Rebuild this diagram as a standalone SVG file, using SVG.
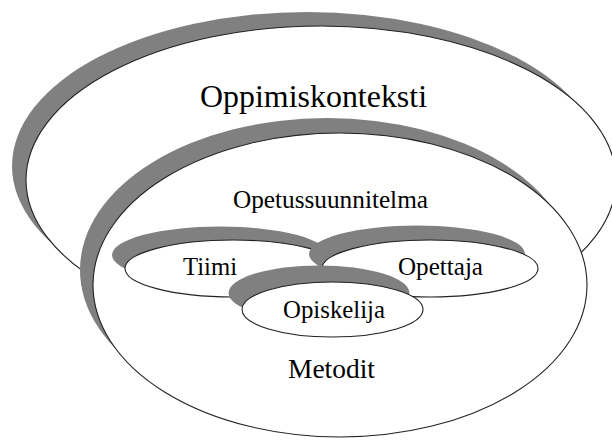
<svg xmlns="http://www.w3.org/2000/svg" width="612" height="443" viewBox="0 0 612 443">
<style>
.sh{fill:#808080;stroke:none}
.el{fill:#fff;stroke:#222;stroke-width:1.1}
.t{font-family:"Liberation Serif","Times New Roman",serif;fill:#000;text-anchor:middle}
</style>
<rect width="612" height="443" fill="#fff"/>
<g id="oppimiskonteksti">
<ellipse class="sh" cx="307" cy="166" rx="295" ry="154"/>
<ellipse class="el" cx="321" cy="180" rx="295" ry="154"/>
<text class="t" x="313.5" y="107" font-size="32" textLength="227" lengthAdjust="spacingAndGlyphs">Oppimiskonteksti</text>
</g>
<g id="opetussuunnitelma">
<ellipse class="sh" cx="327" cy="270" rx="247" ry="152"/>
<ellipse class="el" cx="340" cy="285" rx="247" ry="152"/>
<text class="t" x="330.5" y="208" font-size="26" textLength="195" lengthAdjust="spacingAndGlyphs">Opetussuunnitelma</text>
<text class="t" x="331.5" y="378" font-size="27" textLength="87" lengthAdjust="spacingAndGlyphs">Metodit</text>
</g>
<g id="tiimi">
<ellipse class="sh" cx="220" cy="255" rx="108" ry="28.5"/>
<ellipse class="el" cx="233" cy="268.5" rx="108" ry="28.5"/>
<text class="t" x="210" y="275" font-size="25" textLength="54" lengthAdjust="spacingAndGlyphs">Tiimi</text>
</g>
<g id="opettaja">
<ellipse class="sh" cx="417" cy="254" rx="108" ry="28.5"/>
<ellipse class="el" cx="430" cy="268.5" rx="108" ry="28.5"/>
<text class="t" x="440.5" y="275" font-size="25" textLength="85" lengthAdjust="spacingAndGlyphs">Opettaja</text>
</g>
<g id="opiskelija">
<ellipse class="sh" cx="319" cy="293" rx="90.5" ry="27.5"/>
<ellipse class="el" cx="332.5" cy="309.5" rx="90.5" ry="27.5"/>
<text class="t" x="334" y="318" font-size="25" textLength="102" lengthAdjust="spacingAndGlyphs">Opiskelija</text>
</g>
<g id="connectors"></g>
</svg>
